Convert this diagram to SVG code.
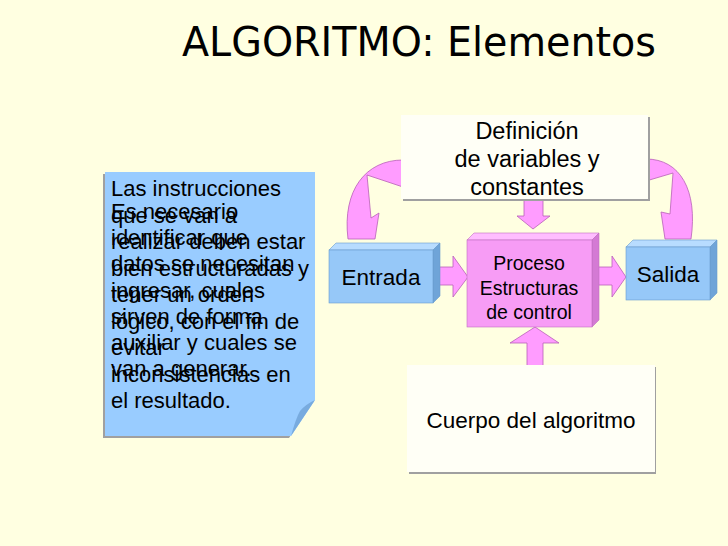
<svg xmlns="http://www.w3.org/2000/svg" width="728" height="546" viewBox="0 0 728 546">
<defs>
<style>
.t{font-family:"Liberation Sans",Arial,sans-serif;fill:#000}
.arrow{fill:#FF9CFF;stroke:#B860B8;stroke-width:0.8;stroke-linejoin:miter}
.bfront{fill:#96C8F8}.btop{fill:#B8DCFF}.bside{fill:#6FA4D8}
.pfront{fill:#F79CF5}.ptop{fill:#FFBDFF}.pside{fill:#D47AD4}
.edge{stroke:#6A9CCC;stroke-width:0.6}
.pedge{stroke:#C070C0;stroke-width:0.6}
.wbox{fill:#FFFFF6}
.shadow{fill:#A0A0A0}
</style>
</defs>
<rect width="728" height="546" fill="#FFFFE1"/>
<text class="t" x="182" y="56" font-size="40" textLength="474" lengthAdjust="spacingAndGlyphs" style="font-family:'DejaVu Sans',sans-serif">ALGORITMO: Elementos</text>

<g id="connectors">
<path class="arrow" d="M403,160 C366,160 342,190 348,239 L375,239 L379,213 L371,218 L367,175 L403,187 Z"/>
<path class="arrow" d="M646,159 C680,159 698,190 691,239 L665,239 L661,212 L670,214 L673,173 L646,181 Z"/>
<path class="arrow" d="M524,198 L543,198 L543,216 L550,216 L533,229 L517,216 L524,216 Z"/>
<path class="arrow" d="M436,267 L453,267 L453,256 L468,277 L453,297 L453,285 L436,285 Z"/>
<path class="arrow" d="M597,267 L612,267 L612,256 L626,277 L612,297 L612,285 L597,285 Z"/>
<path class="arrow" d="M527,366 L543,366 L543,343 L559,343 L535,327 L510,343 L527,343 Z"/>
</g>

<g id="note">
<polygon class="shadow" points="103,174 313,174 313,402 289,438 103,438"/>
<polygon fill="#99CCFF" points="105,172 315,172 315,400 291,436 105,436"/>
<path fill="#78ABDF" d="M315,400 L291,436 Q296,418 300,411 Q306,404 315,400 Z"/>
<g class="t" font-size="22">
<text x="111" y="196">Las instrucciones</text>
<text x="111" y="222.5">que se van a</text>
<text x="111" y="249">realizar deben estar</text>
<text x="111" y="275.5">bien estructuradas y</text>
<text x="111" y="302">tener un orden</text>
<text x="111" y="328.5">lógico, con el fin de</text>
<text x="111" y="355">evitar</text>
<text x="111" y="381.5">inconsistencias en</text>
<text x="111" y="408">el resultado.</text>
<text x="111" y="219">Es necesario</text>
<text x="111" y="245.2">identificar que</text>
<text x="111" y="271.4">datos se necesitan</text>
<text x="111" y="297.6">ingresar, cuales</text>
<text x="111" y="323.8">sirven de forma</text>
<text x="111" y="350">auxiliar y cuales se</text>
<text x="111" y="376.2">van a generar.</text>
</g>
</g>

<g id="definicion">
<rect class="shadow" x="403" y="117" width="247" height="84"/>
<rect class="wbox" x="401" y="115" width="247" height="84"/>
<g class="t" font-size="23.5" text-anchor="middle">
<text x="527" y="139">Definición</text>
<text x="527" y="167">de variables y</text>
<text x="527" y="195">constantes</text>
</g>
</g>

<g id="entrada">
<polygon class="btop edge" points="329,250 336,243 440,243 433,250"/>
<polygon class="bside edge" points="433,250 440,243 440,296 433,303"/>
<rect class="bfront edge" x="329" y="250" width="104" height="53"/>
<text class="t" x="381" y="285" font-size="22.5" text-anchor="middle">Entrada</text>
</g>

<g id="proceso">
<polygon class="ptop pedge" points="467,240 474,233 599,233 592,240"/>
<polygon class="pside pedge" points="592,240 599,233 599,320 592,327"/>
<rect class="pfront pedge" x="467" y="240" width="125" height="87"/>
<g class="t" font-size="19.5" text-anchor="middle">
<text x="529" y="270">Proceso</text>
<text x="529" y="295">Estructuras</text>
<text x="529" y="319">de control</text>
</g>
</g>

<g id="salida">
<polygon class="btop edge" points="626,247 633,240 717,240 710,247"/>
<polygon class="bside edge" points="710,247 717,240 717,293 710,300"/>
<rect class="bfront edge" x="626" y="247" width="84" height="53"/>
<text class="t" x="668" y="282" font-size="22.5" text-anchor="middle">Salida</text>
</g>

<g id="cuerpo">
<rect class="shadow" x="409" y="367" width="247" height="107"/>
<rect class="wbox" x="407" y="365" width="248" height="107"/>
<text class="t" x="531" y="428" font-size="22.5" text-anchor="middle">Cuerpo del algoritmo</text>
</g>
</svg>
